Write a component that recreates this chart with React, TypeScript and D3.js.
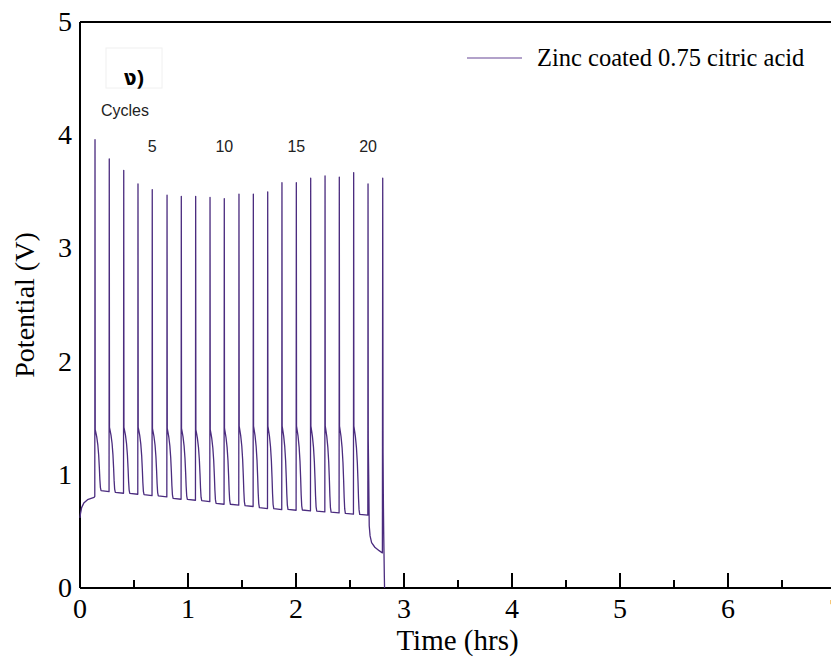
import React from 'react'
import * as d3 from 'd3'

// peak (end of charge) times in hrs and potentials in V
const peakTimes = [0.139, 0.271, 0.405, 0.537, 0.669, 0.806, 0.938, 1.071, 1.204, 1.336, 1.472,
  1.605, 1.738, 1.870, 2.003, 2.136, 2.269, 2.401, 2.534, 2.667, 2.803]
const peakV = [3.96, 3.79, 3.69, 3.57, 3.52, 3.47, 3.46, 3.46, 3.45, 3.44, 3.48,
  3.48, 3.50, 3.58, 3.58, 3.62, 3.64, 3.63, 3.67, 3.57, 3.62]
// potential just after each peak (cycles 1-19)
const shoulderV = [1.40, 1.42, 1.42, 1.42, 1.41, 1.41, 1.41, 1.40, 1.40, 1.41,
  1.43, 1.43, 1.43, 1.43, 1.43, 1.43, 1.43, 1.43, 1.43]
// flat bottom potential after each discharge (cycles 1-19)
const restV = [0.86, 0.845, 0.836, 0.824, 0.813, 0.792, 0.783, 0.771, 0.748, 0.740,
  0.728, 0.710, 0.701, 0.695, 0.689, 0.680, 0.671, 0.660, 0.651]
// shape of a discharge step: time after peak vs fraction of the drop shoulder -> rest
const stepOffsets = [0.002, 0.008, 0.016, 0.026, 0.034, 0.040, 0.045, 0.050, 0.056]
const stepFractions = [0, 0.05, 0.12, 0.25, 0.42, 0.62, 0.82, 0.95, 1.0]
// first rest before cycle 1
const startTimes = [0, 0.005, 0.015, 0.035, 0.07, 0.13, 0.137]
const startV = [0.62, 0.66, 0.71, 0.75, 0.78, 0.80, 0.81]
// cycle 20 discharge and cycle 21 (end of test)
const tailTimes = [2.669, 2.673, 2.678, 2.686, 2.70, 2.73, 2.77, 2.80, 2.803, 2.806, 2.809, 2.812, 2.818, 2.82]
const tailV = [1.32, 1.0, 0.55, 0.46, 0.40, 0.36, 0.33, 0.31, 3.62, 1.2, 0.78, 0.5, 0.1, 0.0]

const xTicks = [0, 1, 2, 3, 4, 5, 6, 7]
const yTicks = [0, 1, 2, 3, 4, 5]
const cycleMarks = [5, 10, 15, 20]
const seriesName = 'Zinc coated 0.75 citric acid'

const W = 831, H = 657
const margin = { top: 22, left: 80, bottom: 69 }

export default function App() {
  const x = d3.scaleLinear().domain([0, 7]).range([margin.left, margin.left + 7 * 108])
  const y = d3.scaleLinear().domain([0, 5]).range([H - margin.bottom, margin.top])

  // build the trace from the read values
  const pts: [number, number][] = []
  startTimes.forEach((t, i) => pts.push([t, startV[i]]))
  for (let c = 0; c < 20; c++) {
    const tp = peakTimes[c]
    pts.push([tp, peakV[c]])
    if (c < 19) {
      stepOffsets.forEach((o, k) => {
        pts.push([tp + o, shoulderV[c] - stepFractions[k] * (shoulderV[c] - restV[c])])
      })
      pts.push([peakTimes[c + 1] - 0.002, restV[c] - 0.008])
    }
  }
  tailTimes.forEach((t, i) => pts.push([t, tailV[i]]))

  const line = d3.line<[number, number]>().x(d => x(d[0])).y(d => y(d[1]))

  const serif = "'Liberation Serif', 'Times New Roman', serif"
  const sans = "'Liberation Sans', Arial, sans-serif"
  const y0 = y(0)
  const halfTicks = d3.range(0, 7.5, 0.5)

  return (
    <div style={{ position: 'absolute', left: 0, top: 0 }}>
      <svg width={W} height={H} style={{ display: 'block', background: '#fff' }}>
        {/* frame */}
        <line x1={x(0)} x2={W + 10} y1={y(5)} y2={y(5)} stroke="#000" strokeWidth={2} />
        <line x1={x(0)} x2={x(0)} y1={y(5)} y2={y0} stroke="#000" strokeWidth={2} />
        <line x1={x(0)} x2={W + 10} y1={y0} y2={y0} stroke="#000" strokeWidth={2} />
        {halfTicks.map(t => (
          <line key={t} x1={x(t)} x2={x(t)} y1={y0} y2={y0 - (t % 1 === 0 ? 15 : 8)}
            stroke="#000" strokeWidth={2} />
        ))}
        {xTicks.map(t => (
          <text key={t} x={x(t)} y={y0 + 30} textAnchor="middle" fontFamily={serif} fontSize={28}>{t}</text>
        ))}
        {yTicks.map(t => (
          <text key={t} x={x(0) - 8} y={y(t) + 9} textAnchor="end" fontFamily={serif} fontSize={28}>{t}</text>
        ))}
        <text x={(x(0) + W) / 2 + 2} y={H - 7} textAnchor="middle" fontFamily={serif} fontSize={29}>Time (hrs)</text>
        <text transform={`translate(34,${(y(0) + y(5)) / 2}) rotate(-90)`} textAnchor="middle"
          fontFamily={serif} fontSize={28}>Potential (V)</text>

        {/* data */}
        <path d={line(pts) || ''} fill="none" stroke="#4b2c7f" strokeWidth={1.3} strokeLinejoin="round" />

        {/* legend */}
        <line x1={467} x2={522} y1={58} y2={58} stroke="#9883b8" strokeWidth={1.5} />
        <text x={537} y={66} fontFamily={serif} fontSize={24.5}>{seriesName}</text>

        {/* panel label and cycle numbers */}
        <rect x={106} y={48} width={56} height={40} fill="none" stroke="#f0f0f0" />
        <text x={134} y={85} textAnchor="middle" fontFamily="Tahoma, 'Noto Sans Thai', sans-serif"
          fontWeight="bold" fontSize={22}>ง)</text>
        <text x={101} y={116} fontFamily={sans} fontSize={16} fill="#222">Cycles</text>
        {cycleMarks.map(c => (
          <text key={c} x={x(peakTimes[c - 1])} y={152} textAnchor="middle" fontFamily={sans}
            fontSize={16} fill="#222">{c}</text>
        ))}
      </svg>
    </div>
  )
}
